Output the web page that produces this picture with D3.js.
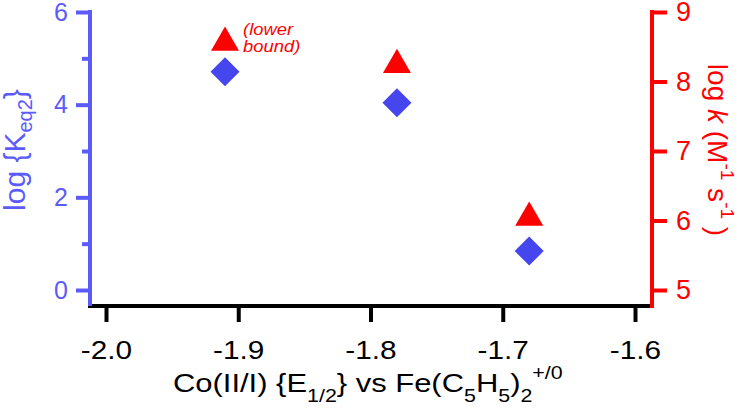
<!DOCTYPE html>
<html>
<head>
<meta charset="utf-8">
<script src="https://cdn.jsdelivr.net/npm/d3@7"></script>
<style>
  html, body { margin: 0; padding: 0; background: #fff; }
  svg { display: block; font-family: "Liberation Sans", Arial, sans-serif; }
</style>
</head>
<body>
<svg id="chart" width="747" height="413"></svg>
<script>
// ---- data ----
const potentials = [-1.91, -1.78, -1.68];      // Co(II/I) E1/2 vs Fc+/0 (V)
const logKeq2 = [4.71, 4.04, 0.84];            // left axis
const logK = [8.56, 8.24, 6.04];               // right axis (log k, M^-1 s^-1)
const xTicks = [-2.0, -1.9, -1.8, -1.7, -1.6];
const yLeftMajor = [0, 2, 4, 6];
const yLeftMinor = [1, 3, 5];
const yRightTicks = [5, 6, 7, 8, 9];
const annotation = ["(lower", "bound)"];

const BLUE_AXIS = "#5b5bfb";
const BLUE_MARK = "#4646ee";
const RED = "#ff0000";
const STRETCH = 1.19;   // glyphs in the reference are slightly wide

const svg = d3.select("#chart");

const x = d3.scaleLinear().domain([-2.0, -1.6]).range([106, 635]);
const yL = d3.scaleLinear().domain([0, 6]).range([290, 12]);
const yR = d3.scaleLinear().domain([5, 9]).range([290, 12]);

const axisLeftX = 90, axisRightX = 652, axisBottomY = 306;

// ---- bottom axis ----
const gx = svg.append("g").attr("transform", `translate(0,${axisBottomY})`)
  .call(d3.axisBottom(x).tickValues(xTicks)
    .tickFormat(d => d3.format(".1f")(d).replace("\u2212", "-"))
    .tickSize(16).tickPadding(19).tickSizeOuter(0));
gx.select(".domain").remove();
gx.selectAll(".tick line").attr("stroke", "#000").attr("stroke-width", 4);
gx.selectAll(".tick text").attr("font-size", 25).attr("fill", "#000")
  .attr("transform", `scale(${STRETCH},1)`);
svg.append("line").attr("x1", axisLeftX - 2).attr("x2", axisRightX + 2)
  .attr("y1", axisBottomY).attr("y2", axisBottomY)
  .attr("stroke", "#000").attr("stroke-width", 4);

// ---- left axis ----
const gl = svg.append("g").attr("transform", `translate(${axisLeftX},0)`)
  .call(d3.axisLeft(yL).tickValues(yLeftMajor).tickFormat(d3.format("d"))
    .tickSize(14).tickPadding(8).tickSizeOuter(0));
gl.select(".domain").remove();
gl.selectAll(".tick line").attr("stroke", BLUE_AXIS).attr("stroke-width", 4);
gl.selectAll(".tick text").attr("font-size", 25).attr("fill", BLUE_AXIS);
const glm = svg.append("g").attr("transform", `translate(${axisLeftX},0)`)
  .call(d3.axisLeft(yL).tickValues(yLeftMinor).tickSize(8).tickFormat("").tickSizeOuter(0));
glm.select(".domain").remove();
glm.selectAll(".tick line").attr("stroke", BLUE_AXIS).attr("stroke-width", 4);
svg.append("line").attr("x1", axisLeftX).attr("x2", axisLeftX)
  .attr("y1", yL(6) - 2).attr("y2", axisBottomY)
  .attr("stroke", BLUE_AXIS).attr("stroke-width", 4);

// ---- right axis ----
const gr = svg.append("g").attr("transform", `translate(${axisRightX},0)`)
  .call(d3.axisRight(yR).tickValues(yRightTicks).tickFormat(d3.format("d"))
    .tickSize(15).tickPadding(9).tickSizeOuter(0));
gr.select(".domain").remove();
gr.selectAll(".tick line").attr("stroke", RED).attr("stroke-width", 4);
gr.selectAll(".tick text").attr("font-size", 27).attr("fill", RED);
svg.append("line").attr("x1", axisRightX).attr("x2", axisRightX)
  .attr("y1", yR(9) - 2).attr("y2", axisBottomY + 2)
  .attr("stroke", RED).attr("stroke-width", 4);

// ---- axis titles ----
const xt = svg.append("text")
  .attr("transform", `translate(173,392) scale(${STRETCH},1)`)
  .attr("font-size", 26).attr("fill", "#000");
xt.append("tspan").text("Co(II/I) {E");
xt.append("tspan").attr("font-size", 18).attr("dy", 10).text("1/2");
xt.append("tspan").attr("dy", -10).text("} vs Fe(C");
xt.append("tspan").attr("font-size", 18).attr("dy", 10).text("5");
xt.append("tspan").attr("dy", -10).text("H");
xt.append("tspan").attr("font-size", 18).attr("dy", 10).text("5");
xt.append("tspan").attr("dy", -10).text(")");
xt.append("tspan").attr("font-size", 18).attr("dy", 10).text("2");
xt.append("tspan").attr("font-size", 18).attr("dy", -23).text("+/0");

const lt = svg.append("text")
  .attr("transform", "translate(25,150) rotate(-90)")
  .attr("text-anchor", "middle").attr("font-size", 30).attr("fill", BLUE_AXIS);
lt.append("tspan").text("log {K");
lt.append("tspan").attr("font-size", 20).attr("dy", 7).text("eq2");
lt.append("tspan").attr("dy", -7).text("}");

const rt = svg.append("text")
  .attr("transform", "translate(708,150) rotate(90)")
  .attr("text-anchor", "middle").attr("font-size", 28).attr("fill", RED);
rt.append("tspan").text("log ");
rt.append("tspan").attr("font-style", "italic").text("k");
rt.append("tspan").text(" (M");
rt.append("tspan").attr("font-size", 19).attr("dy", -13).text("-1");
rt.append("tspan").attr("dy", 13).text(" s");
rt.append("tspan").attr("font-size", 19).attr("dy", -13).text("-1");
rt.append("tspan").attr("dy", 13).text(" )");

// ---- markers ----
const pts = potentials.map((p, i) => ({ p, keq: logKeq2[i], k: logK[i] }));
svg.selectAll("path.dia").data(pts).join("path").attr("class", "dia")
  .attr("d", d3.symbol(d3.symbolSquare, 420))
  .attr("transform", d => `translate(${x(d.p)},${yL(d.keq)}) rotate(45)`)
  .attr("fill", BLUE_MARK);
svg.selectAll("path.tri").data(pts).join("path").attr("class", "tri")
  .attr("d", d3.symbol(d3.symbolTriangle, 340))
  .attr("transform", d => `translate(${x(d.p)},${yR(d.k)})`)
  .attr("fill", RED);

// ---- annotation ----
const ann = svg.append("text")
  .attr("transform", `translate(${x(potentials[0]) + 18},${yR(logK[0]) - 8}) scale(1.15,1)`)
  .attr("font-size", 16).attr("font-style", "italic").attr("fill", RED);
annotation.forEach((s, i) => {
  ann.append("tspan").attr("x", 0).attr("y", i * 17).text(s);
});
</script>
</body>
</html>
